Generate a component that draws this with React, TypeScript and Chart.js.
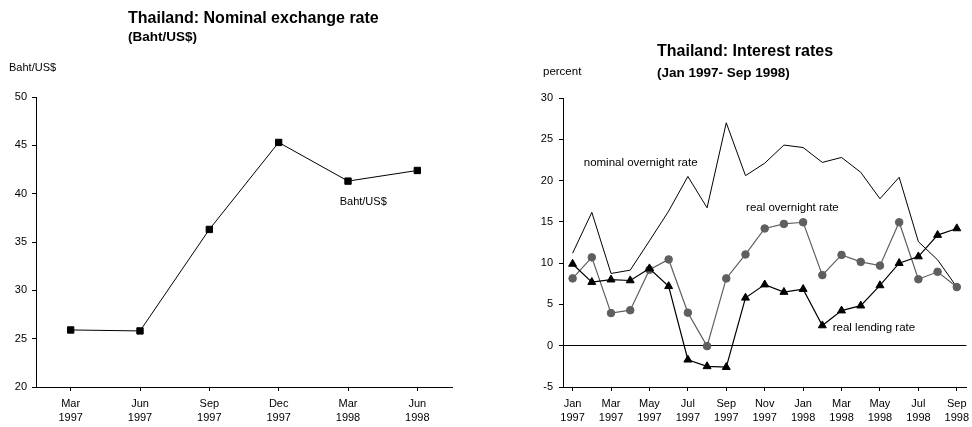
import React, { useEffect, useRef } from "react";
import { Chart, registerables } from "chart.js";

Chart.register(...registerables);

// ---- Left chart data ----
const fxLabels: string[][] = [
  ["Mar", "1997"],
  ["Jun", "1997"],
  ["Sep", "1997"],
  ["Dec", "1997"],
  ["Mar", "1998"],
  ["Jun", "1998"],
];
const fxValues: number[] = [25.9, 25.8, 36.3, 45.3, 41.3, 42.4];
const fxTicks = { min: 20, max: 50, step: 5 };

// ---- Right chart data ----
const monthLabels: string[][] = [
  ["Jan", "1997"], ["Feb", "1997"], ["Mar", "1997"], ["Apr", "1997"],
  ["May", "1997"], ["Jun", "1997"], ["Jul", "1997"], ["Aug", "1997"],
  ["Sep", "1997"], ["Oct", "1997"], ["Nov", "1997"], ["Dec", "1997"],
  ["Jan", "1998"], ["Feb", "1998"], ["Mar", "1998"], ["Apr", "1998"],
  ["May", "1998"], ["Jun", "1998"], ["Jul", "1998"], ["Aug", "1998"],
  ["Sep", "1998"],
];
const realLendingRate: number[] = [
  9.9, 7.7, 8.0, 7.9, 9.35, 7.2, -1.7, -2.5, -2.6, 5.8, 7.4, 6.5, 6.85,
  2.45, 4.25, 4.85, 7.3, 10.0, 10.8, 13.4, 14.2,
];
const realOvernightRate: number[] = [
  8.15, 10.7, 3.95, 4.3, 9.2, 10.45, 4.0, -0.05, 8.15, 11.05, 14.2, 14.75,
  14.95, 8.55, 11.0, 10.15, 9.7, 14.95, 8.05, 8.95, 7.1,
];
const nominalOvernightRate: number[] = [
  11.2, 16.15, 8.75, 9.15, 12.7, 16.3, 20.5, 16.7, 27.0, 20.6, 22.1, 24.3,
  24.0, 22.2, 22.8, 21.0, 17.8, 20.4, 12.6, 10.4, 7.1,
];
const rateTicks = { min: -5, max: 30, step: 5 };

const FONT = "'Liberation Sans', Arial, sans-serif";

type TextItem = {
  text: string;
  x: number;
  y: number;
  size: number;
  bold?: boolean;
  data?: boolean; // if true, x = category index, y = value
};

const makeTextPlugin = (items: TextItem[]) => ({
  id: "texts",
  afterDraw(chart: any) {
    const ctx = chart.ctx;
    ctx.save();
    ctx.fillStyle = "#000";
    ctx.textAlign = "left";
    ctx.textBaseline = "middle";
    for (const it of items) {
      ctx.font = `${it.bold ? "bold " : ""}${it.size}px ${FONT}`;
      let x = it.x;
      let y = it.y;
      if (it.data) {
        x = chart.scales.x.getPixelForValue(it.x);
        y = chart.scales.y.getPixelForValue(it.y);
      }
      ctx.fillText(it.text, x, y);
    }
    ctx.restore();
  },
});

const fitX = (s: any) => {
  s.height = 40;
  s.paddingLeft = 0;
  s.paddingRight = 0;
};

function FxChart() {
  const ref = useRef<HTMLCanvasElement | null>(null);
  useEffect(() => {
    if (!ref.current) return;
    const chart = new Chart(ref.current, {
      type: "line",
      data: {
        labels: fxLabels,
        datasets: [
          {
            label: "Baht/US$",
            data: fxValues,
            borderColor: "#000",
            borderWidth: 1,
            backgroundColor: "#000",
            pointStyle: "rect",
            pointRadius: 4.5,
            pointBorderWidth: 1,
            pointBackgroundColor: "#000",
            pointBorderColor: "#000",
            tension: 0,
          },
        ],
      },
      options: {
        animation: false,
        responsive: false,
        devicePixelRatio: 1,
        layout: { padding: { left: 0, right: 34, top: 97, bottom: 0 } },
        plugins: { legend: { display: false }, tooltip: { enabled: false } },
        scales: {
          x: {
            offset: true,
            grid: {
              display: true,
              drawOnChartArea: false,
              tickLength: 4,
              color: "#000",
              lineWidth: 1,
            },
            border: { display: true, color: "#000", width: 1 },
            ticks: {
              color: "#000",
              autoSkip: false,
              maxRotation: 0,
              padding: 6,
              font: { family: FONT, size: 11, lineHeight: 1.3 },
            },
            afterFit: fitX,
          },
          y: {
            min: fxTicks.min,
            max: fxTicks.max,
            ticks: {
              stepSize: fxTicks.step,
              color: "#000",
              padding: 5,
              font: { family: FONT, size: 11 },
            },
            grid: {
              display: true,
              drawOnChartArea: false,
              tickLength: 4,
              color: "#000",
            },
            border: { display: true, color: "#000", width: 1 },
            afterFit: (s: any) => {
              s.width = 36;
            },
          },
        },
      },
      plugins: [
        makeTextPlugin([
          { text: "Thailand: Nominal exchange rate", x: 128, y: 19, size: 16, bold: true },
          { text: "(Baht/US$)", x: 128, y: 37, size: 13.5, bold: true },
          { text: "Baht/US$", x: 9, y: 68, size: 11 },
          { text: "Baht/US$", x: 3.88, y: 39.1, size: 11, data: true },
        ]),
      ],
    } as any);
    return () => chart.destroy();
  }, []);
  return <canvas ref={ref} width={486} height={427} style={{ width: 486, height: 427, display: "block" }} />;
}

function RatesChart() {
  const ref = useRef<HTMLCanvasElement | null>(null);
  useEffect(() => {
    if (!ref.current) return;
    const chart = new Chart(ref.current, {
      type: "line",
      data: {
        labels: monthLabels,
        datasets: [
          {
            label: "real lending rate",
            data: realLendingRate,
            borderColor: "#000",
            borderWidth: 1.2,
            backgroundColor: "#000",
            pointStyle: "triangle",
            pointRadius: 4.6,
            pointBorderWidth: 1,
            pointBackgroundColor: "#000",
            pointBorderColor: "#000",
            tension: 0,
          },
          {
            label: "real overnight rate",
            data: realOvernightRate,
            borderColor: "#5f5f5f",
            borderWidth: 1.2,
            backgroundColor: "#5f5f5f",
            pointStyle: "circle",
            pointRadius: 3.8,
            pointBorderWidth: 1,
            pointBackgroundColor: "#5f5f5f",
            pointBorderColor: "#5f5f5f",
            tension: 0,
          },
          {
            label: "nominal overnight rate",
            data: nominalOvernightRate,
            borderColor: "#000",
            borderWidth: 1,
            pointRadius: 0,
            tension: 0,
          },
        ],
      },
      options: {
        animation: false,
        responsive: false,
        devicePixelRatio: 1,
        layout: { padding: { left: 0, right: 4, top: 98, bottom: 0 } },
        plugins: { legend: { display: false }, tooltip: { enabled: false } },
        scales: {
          x: {
            offset: true,
            grid: {
              display: true,
              drawOnChartArea: false,
              tickLength: 4,
              color: (c: any) => (c.index % 2 === 0 ? "#000" : "rgba(0,0,0,0)"),
              lineWidth: 1,
            },
            border: { display: true, color: "#000", width: 1 },
            ticks: {
              color: "#000",
              autoSkip: false,
              maxRotation: 0,
              padding: 6,
              font: { family: FONT, size: 11, lineHeight: 1.3 },
              callback: function (this: any, v: any, i: number) {
                return i % 2 === 0 ? this.getLabelForValue(v) : "";
              },
            },
            afterFit: fitX,
          },
          y: {
            min: rateTicks.min,
            max: rateTicks.max,
            ticks: {
              stepSize: rateTicks.step,
              color: "#000",
              padding: 6,
              font: { family: FONT, size: 11 },
            },
            grid: {
              display: true,
              drawOnChartArea: true,
              tickLength: 4,
              color: (c: any) => (c.tick && c.tick.value === 0 ? "#000" : "rgba(0,0,0,0)"),
              tickColor: "#000",
            },
            border: { display: true, color: "#000", width: 1 },
            afterFit: (s: any) => {
              s.width = 77;
            },
          },
        },
      },
      plugins: [
        makeTextPlugin([
          { text: "Thailand: Interest rates", x: 171, y: 52, size: 16, bold: true },
          { text: "(Jan 1997- Sep 1998)", x: 171, y: 73, size: 13.5, bold: true },
          { text: "percent", x: 57, y: 72, size: 11.5 },
          { text: "nominal overnight rate", x: 0.58, y: 22.1, size: 11.5, data: true },
          { text: "real overnight rate", x: 9.03, y: 16.7, size: 11.5, data: true },
          { text: "real lending rate", x: 13.54, y: 2.15, size: 11.5, data: true },
        ]),
      ],
    } as any);
    return () => chart.destroy();
  }, []);
  return <canvas ref={ref} width={486} height={427} style={{ width: 486, height: 427, display: "block" }} />;
}

export default function App() {
  return (
    <div style={{ position: "absolute", left: 0, top: 0, width: 972, height: 427, background: "#fff", fontFamily: FONT }}>
      <div style={{ position: "absolute", left: 0, top: 0, width: 486, height: 427 }}>
        <FxChart />
      </div>
      <div style={{ position: "absolute", left: 486, top: 0, width: 486, height: 427 }}>
        <RatesChart />
      </div>
    </div>
  );
}
